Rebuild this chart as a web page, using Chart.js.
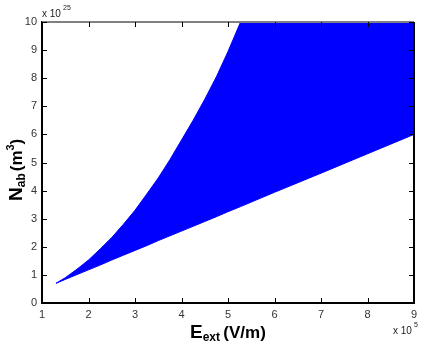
<!DOCTYPE html>
<html>
<head>
<meta charset="utf-8">
<script src="https://cdn.jsdelivr.net/npm/chart.js@4"></script>
<style>
  html, body { margin: 0; padding: 0; background: #fff; }
  #wrap { width: 436px; height: 354px; }
</style>
</head>
<body>
<div id="wrap"><canvas id="chart" width="436" height="354"></canvas></div>
<script>
// E_ext (x 10^5 V/m) sample positions
const eField = [1.3, 1.5, 1.75, 2, 2.25, 2.5, 2.75, 3, 3.25, 3.5, 3.75, 4, 4.25, 4.5, 4.75, 5, 5.27, 6, 7, 8, 9];
// lower boundary of N_ab (x 10^25)
const lowerN = [0.7, 0.84, 1.01, 1.18, 1.35, 1.53, 1.70, 1.87, 2.04, 2.22, 2.39, 2.56, 2.73, 2.9, 3.07, 3.25, 3.43, 3.94, 4.62, 5.31, 6.0];
// upper boundary of N_ab (x 10^25), clipped at the top of the axis
const upperN = [0.7, 0.9, 1.2, 1.53, 1.92, 2.33, 2.8, 3.3, 3.87, 4.45, 5.1, 5.8, 6.5, 7.25, 8.05, 8.95, 10, 10, 10, 10, 10];
const xTicks = [1, 2, 3, 4, 5, 6, 7, 8, 9];
const yTicks = [0, 1, 2, 3, 4, 5, 6, 7, 8, 9, 10];

const toPts = (ys) => eField.map((x, i) => ({ x: x, y: ys[i] }));

// inward ticks on all four sides, box lines, titles and exponents
const frame = {
  id: 'frame',
  afterDraw(chart) {
    const { ctx, chartArea: a, scales } = chart;
    ctx.save();
    // top (grey) and right (black) box lines
    ctx.strokeStyle = '#808080';
    ctx.lineWidth = 2;
    ctx.beginPath();
    ctx.moveTo(a.left, a.top); ctx.lineTo(a.right, a.top);
    ctx.stroke();
    ctx.strokeStyle = '#000';
    ctx.beginPath();
    ctx.moveTo(a.right, a.top); ctx.lineTo(a.right, a.bottom);
    ctx.stroke();

    ctx.lineWidth = 1;
    ctx.strokeStyle = '#000';
    xTicks.forEach(v => {
      const px = Math.round(scales.x.getPixelForValue(v)) + 0.5;
      ctx.beginPath();
      ctx.moveTo(px, a.bottom); ctx.lineTo(px, a.bottom - 5);
      ctx.moveTo(px, a.top); ctx.lineTo(px, a.top + 5);
      ctx.stroke();
    });
    yTicks.forEach(v => {
      const py = Math.round(scales.y.getPixelForValue(v)) + 0.5;
      ctx.beginPath();
      ctx.moveTo(a.left, py); ctx.lineTo(a.left + 5, py);
      ctx.moveTo(a.right, py); ctx.lineTo(a.right - 5, py);
      ctx.stroke();
    });

    // exponents
    ctx.fillStyle = '#222';
    ctx.textBaseline = 'alphabetic';
    ctx.textAlign = 'left';
    ctx.font = '10px "Liberation Sans", Arial, sans-serif';
    ctx.fillText('x 10', 42, 17);
    ctx.fillText('x 10', 393, 334);
    ctx.font = '7px "Liberation Sans", Arial, sans-serif';
    ctx.fillText('25', 63, 10);
    ctx.fillText('5', 414, 327);

    // x title: E_ext (V/m)
    ctx.fillStyle = '#000';
    let x = 190;
    ctx.font = 'bold 19px "Liberation Sans", Arial, sans-serif';
    ctx.fillText('E', x, 338);
    x += ctx.measureText('E').width;
    ctx.font = 'bold 12px "Liberation Sans", Arial, sans-serif';
    ctx.fillText('ext', x, 341);
    x += ctx.measureText('ext ').width;
    ctx.font = 'bold 17px "Liberation Sans", Arial, sans-serif';
    ctx.fillText('(V/m)', x, 338);

    // y title: N_ab (m^3), rotated
    ctx.translate(22, 201);
    ctx.rotate(-Math.PI / 2);
    let y = 0;
    ctx.font = 'bold 19px "Liberation Sans", Arial, sans-serif';
    ctx.fillText('N', y, 0);
    y += ctx.measureText('N').width;
    ctx.font = 'bold 12px "Liberation Sans", Arial, sans-serif';
    ctx.fillText('ab', y, 3);
    y += ctx.measureText('ab').width + 2;
    ctx.font = 'bold 17px "Liberation Sans", Arial, sans-serif';
    ctx.fillText('(m', y, 0);
    y += ctx.measureText('(m').width;
    ctx.font = 'bold 11px "Liberation Sans", Arial, sans-serif';
    ctx.fillText('3', y, -8);
    y += ctx.measureText('3').width;
    ctx.font = 'bold 17px "Liberation Sans", Arial, sans-serif';
    ctx.fillText(')', y, 0);
    ctx.restore();
  }
};

new Chart(document.getElementById('chart'), {
  type: 'line',
  data: {
    datasets: [
      {
        data: toPts(lowerN),
        borderColor: '#0000ff',
        borderWidth: 1,
        pointRadius: 0,
        fill: false,
        tension: 0
      },
      {
        data: toPts(upperN),
        borderColor: '#0000ff',
        borderWidth: 1,
        backgroundColor: '#0000ff',
        pointRadius: 0,
        fill: '-1',
        tension: 0
      }
    ]
  },
  options: {
    responsive: false,
    animation: false,
    layout: { padding: { top: 22, right: 22, left: 0, bottom: 0 } },
    plugins: { legend: { display: false }, tooltip: { enabled: false } },
    scales: {
      x: {
        type: 'linear',
        min: 1, max: 9,
        afterFit(s) { s.height = 51; },
        afterBuildTicks(s) { s.ticks = xTicks.map(v => ({ value: v })); },
        grid: { drawOnChartArea: false, drawTicks: false },
        border: { color: '#000', width: 2 },
        ticks: { padding: 5, color: '#333', font: { family: '"Liberation Sans", Arial, sans-serif', size: 11 } }
      },
      y: {
        min: 0, max: 10,
        afterFit(s) { s.width = 42; },
        afterBuildTicks(s) { s.ticks = yTicks.map(v => ({ value: v })); },
        grid: { drawOnChartArea: false, drawTicks: false },
        border: { color: '#000', width: 2 },
        ticks: { padding: 5, color: '#333', font: { family: '"Liberation Sans", Arial, sans-serif', size: 11 } }
      }
    }
  },
  plugins: [frame]
});
</script>
</body>
</html>
